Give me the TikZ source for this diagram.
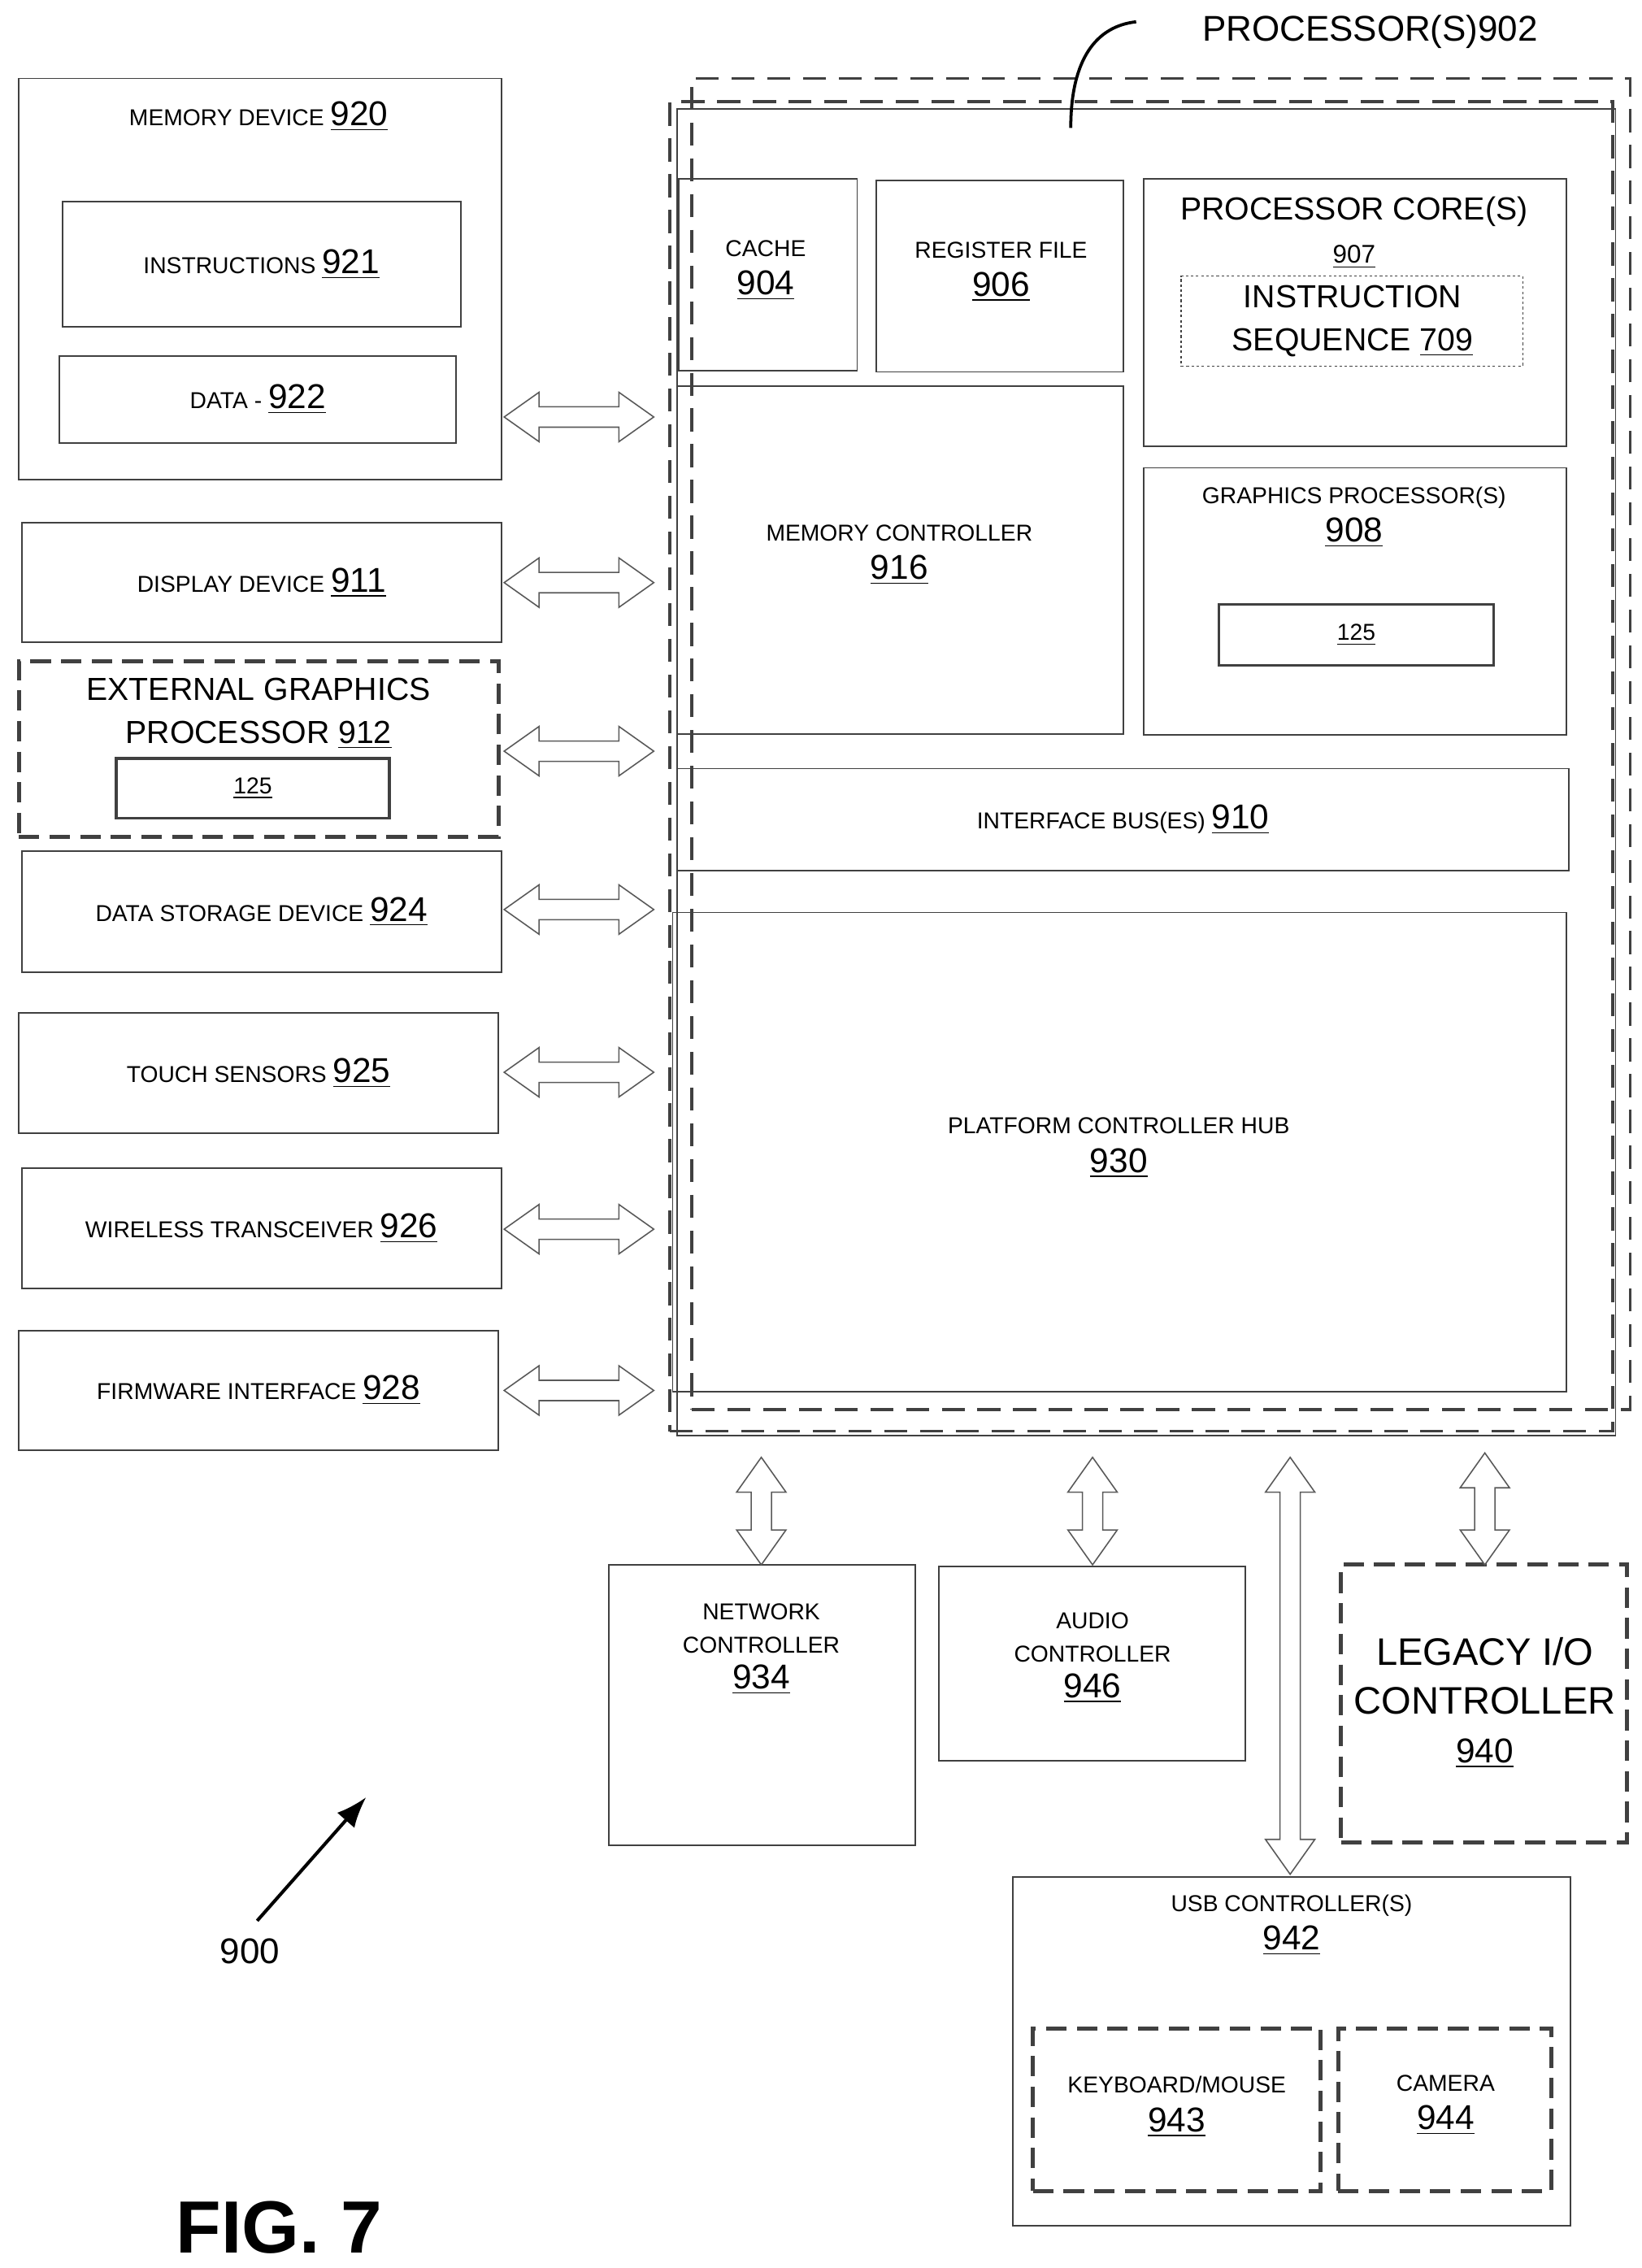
\documentclass[tikz,border=0pt]{standalone}
\usepackage{fontspec}
\setmainfont{Liberation Sans}
\usetikzlibrary{arrows.meta}

\tikzset{
  box/.style={draw=black!75, line width=0.6pt, inner sep=0pt, outer sep=0pt},
  dbox/.style={box, line width=1.6pt, dash pattern=on 8pt off 4pt},
  pbox/.style={box, line width=1.2pt, dash pattern=on 9pt off 5pt},
  txt/.style={align=center, font=\fontsize{9}{13}\selectfont, inner sep=0pt},
  big/.style={align=center, font=\fontsize{12.5}{17}\selectfont, inner sep=0pt},
  blk/.style={draw=black!65, line width=0.5pt, fill=white, line join=miter},
}
\newcommand\num[1]{{\fontsize{13.5}{15}\selectfont\underline{#1}}}
\newcommand\bx[6][box]{\node[#1, minimum width={(#5-#3)*0.02cm}, minimum height={(#6-#4)*0.02cm}] (#2) at ({(#3+#5)/2},{(#4+#6)/2}) {};}
% block arrows: horizontal (x1,x2,y) and vertical (x,y1,y2)
\newcommand\hblk[3]{\draw[blk] (#1,#3) -- ++(24,-17) -- ++(0,10) -- ({#2-24},{#3-7}) -- ++(0,-10) -- (#2,#3)
  -- ++(-24,17) -- ++(0,-10) -- ({#1+24},{#3+7}) -- ++(0,10) -- cycle;}
\newcommand\vblk[3]{\draw[blk] (#1,#2) -- ++(-17,24) -- ++(10,0) -- ({#1-7},{#3-24}) -- ++(-10,0) -- (#1,#3)
  -- ++(17,-24) -- ++(-10,0) -- ({#1+7},{#2+24}) -- ++(10,0) -- cycle;}

\begin{document}
\begin{tikzpicture}[x=0.02cm, y=-0.02cm]
\useasboundingbox (0,0) rectangle (1130,1561);

% left column
\bx{mem}{13}{54}{345}{330}
\bx{ins}{43}{139}{317}{225}
\bx{dat}{41}{245}{314}{305}
\bx{disp}{15}{360}{345}{442}
\bx[dbox]{egp}{13}{455}{343}{576}
\bx[box, line width=1pt]{egpi}{80}{522}{268}{563}
\bx{stor}{15}{586}{345}{669}
\bx{touch}{13}{697}{343}{780}
\bx{wire}{15}{804}{345}{887}
\bx{firm}{13}{916}{343}{998}

\node[txt] at (178,80) {MEMORY DEVICE \num{920}};
\node[txt] at (ins) {INSTRUCTIONS \num{921}};
\node[txt] at (dat) {DATA - \num{922}};
\node[txt] at (disp) {DISPLAY DEVICE \num{911}};
\node[big] at (178,491) {EXTERNAL GRAPHICS\\PROCESSOR \underline{912}};
\node[txt] at (egpi) {\underline{125}};
\node[txt] at (stor) {DATA STORAGE DEVICE \num{924}};
\node[txt] at (touch) {TOUCH SENSORS \num{925}};
\node[txt] at (wire) {WIRELESS TRANSCEIVER \num{926}};
\node[txt] at (firm) {FIRMWARE INTERFACE \num{928}};

% processor
\bx[pbox]{proca}{476}{54}{1122}{970}
\bx[pbox]{procb}{461}{70}{1110}{985}
\bx{proc}{466}{75}{1112}{988}
\bx{cache}{467}{123}{590}{255}
\bx{reg}{603}{124}{773}{256}
\bx{core}{787}{123}{1078}{307}
\bx[box, line width=0.4pt, dash pattern=on 1pt off 1pt]{seq}{813}{190}{1048}{252}
\bx{mctl}{466}{266}{773}{505}
\bx{gfx}{787}{322}{1078}{506}
\bx[box, line width=1pt]{gfxi}{839}{416}{1028}{458}
\bx{ibus}{466}{529}{1080}{599}
\bx{pch}{463}{628}{1078}{958}

\node[big, font=\fontsize{14}{17}\selectfont] at (943,22) {PROCESSOR(S)902};
\draw[line width=1.2pt] (737,88) .. controls (737,40) and (755,18) .. (782,15);
\node[txt] at (527,186) {CACHE\\[2pt]\num{904}};
\node[txt] at (689,187) {REGISTER FILE\\[2pt]\num{906}};
\node[big] at (932,160) {PROCESSOR CORE(S)\\{\fontsize{10}{12}\selectfont\underline{907}}};
\node[big] at (931,221) {INSTRUCTION\\SEQUENCE \underline{709}};
\node[txt] at (619,382) {MEMORY CONTROLLER\\[2pt]\num{916}};
\node[txt] at (932,356) {GRAPHICS PROCESSOR(S)\\[2pt]\num{908}};
\node[txt] at (gfxi) {\underline{125}};
\node[txt] at (ibus) {INTERFACE BUS(ES) \num{910}};
\node[txt] at (770,790) {PLATFORM CONTROLLER HUB\\[2pt]\num{930}};

% lower boxes
\bx{net}{419}{1077}{630}{1270}
\bx{aud}{646}{1078}{857}{1212}
\bx[dbox]{leg}{923}{1077}{1120}{1268}
\bx{usb}{697}{1292}{1081}{1532}
\bx[dbox]{kbd}{711}{1396}{909}{1508}
\bx[dbox]{cam}{921}{1396}{1068}{1508}

\node[txt] at (524,1135) {NETWORK\\CONTROLLER\\[1pt]\num{934}};
\node[txt] at (752,1141) {AUDIO\\CONTROLLER\\[1pt]\num{946}};
\node[big, font=\fontsize{15}{19}\selectfont] at (1022,1172) {LEGACY I/O\\CONTROLLER\\{\fontsize{13.5}{15}\selectfont\underline{940}}};
\node[txt] at (889,1325) {USB CONTROLLER(S)\\[2pt]\num{942}};
\node[txt] at (810,1450) {KEYBOARD/MOUSE\\[2pt]\num{943}};
\node[txt] at (995,1449) {CAMERA\\[2pt]\num{944}};

% links
\foreach \y in {287, 401, 517, 626, 738, 846, 957}
  {\hblk{347}{450}{\y}}
\vblk{524}{1003}{1077}
\vblk{752}{1003}{1077}
\vblk{888}{1003}{1290}
\vblk{1022}{1000}{1077}

% reference
\node[font=\fontsize{14}{16}\selectfont] (lbl) at (172,1343) {900};
\draw[-{Latex[length=12pt,width=9pt]}, line width=1.3pt] (177,1322) -- (252,1237);
\node[font=\bfseries\fontsize{29}{32}\selectfont] at (192,1533) {FIG. 7};
\end{tikzpicture}
\end{document}
